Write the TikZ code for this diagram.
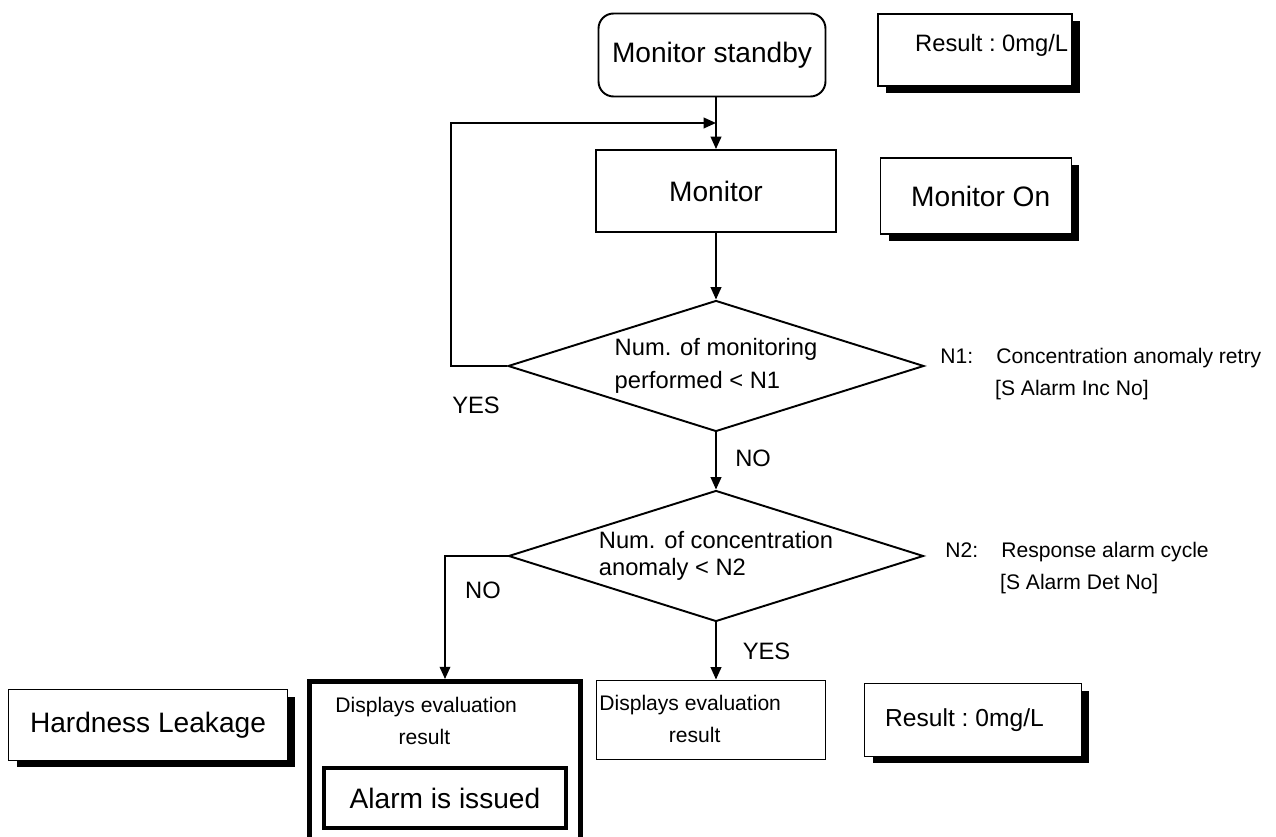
\documentclass[tikz,border=0pt]{standalone}
\usepackage{fontspec}
\setmainfont{Liberation Sans}
\usetikzlibrary{shapes.geometric,arrows.meta,shadows}

\tikzset{
  box/.style={draw,line width=1.1pt,fill=white,inner sep=0pt},
  shadowbox/.style={box,drop shadow={shadow xshift=0.16cm,shadow yshift=-0.14cm,fill=black,opacity=1}},
  heavybox/.style={draw,inner sep=0pt},
  decision/.style={diamond,draw,line width=1.1pt,inner sep=0pt,align=left,shape aspect=3.17},
  flow/.style={line width=1.1pt,-{Triangle[length=7pt,width=6pt]}},
  big/.style={font=\fontsize{16}{19}\selectfont},
  res/.style={font=\fontsize{14}{17}\selectfont},
  mid/.style={font=\fontsize{13.5}{19}\selectfont},
  small/.style={font=\fontsize{12}{18}\selectfont},
}

\begin{document}
\begin{tikzpicture}[x=0.02cm,y=-0.02cm]
\useasboundingbox (0,0) rectangle (1276,837);
% main column
\node[box,rounded corners=0.3cm,big,minimum width=4.54cm,minimum height=1.66cm] (standby) at (712,55) {Monitor standby};
\node[box,big,minimum width=4.8cm,minimum height=1.64cm] (monitor) at (716,191) {Monitor};
\node[decision,mid,minimum width=8.32cm,minimum height=2.62cm] (check1) at (716,366) {Num. of monitoring\\performed < N1};
\node[decision,font=\fontsize{13.5}{15.5}\selectfont,minimum width=8.3cm,minimum height=2.62cm] (check2) at (716,556) {Num. of concentration\\anomaly < N2};
\node[box,minimum width=4.58cm,minimum height=1.58cm] (display) at (711,720) {};
\node[heavybox,line width=2.8pt,minimum width=5.42cm,minimum height=3.38cm] (alarmbox) at (445,766) {};
\node[heavybox,line width=2.3pt,minimum width=4.86cm,minimum height=1.2cm,big] (alarm) at (445,798) {Alarm is issued};
% side notes
\node[shadowbox,minimum width=3.88cm,minimum height=1.44cm] (result1) at (975,50) {};
\node[shadowbox,minimum width=3.82cm,minimum height=1.52cm] (monon) at (976,196) {};
\node[shadowbox,minimum width=4.34cm,minimum height=1.46cm] (result2) at (973,720) {};
\node[shadowbox,big,minimum width=5.58cm,minimum height=1.42cm] (leak) at (148,725) {Hardness Leakage};
\node[font=\fontsize{13.5}{17}\selectfont,anchor=west] (result1txt) at (909,45) {Result\ :\ 0mg/L};
\node[big,anchor=west] (monontxt) at (905,196) {Monitor On};
\node[res,anchor=west] (result2txt) at (879,720) {Result\ :\ 0mg/L};
\node[small,anchor=north west,align=left,inner sep=0pt] (displaytxt) at (599,695) {Displays evaluation\\\hspace*{3.3em}result};
\node[small,anchor=north west,align=left,inner sep=0pt] (alarmtxt) at (335,697) {Displays evaluation\\\hspace*{3em}result};
\node[small,anchor=west,align=left,inner sep=0pt] (n1) at (940,374) {N1:\hspace{1.1em}Concentration anomaly retry\\\hspace*{2.6em}[S Alarm Inc No]};
\node[small,anchor=west,align=left,inner sep=0pt] (n2) at (945,568) {N2:\hspace{1.1em}Response alarm cycle\\\hspace*{2.6em}[S Alarm Det No]};
\coordinate (merge) at (716,123);
% connectors
\draw[flow] (standby.south -| monitor.north) -- (monitor.north);
\draw[flow] (monitor.south) -- (check1.north);
\draw[flow] (check1.south) -- (check2.north) node[mid,anchor=west,pos=0.45,xshift=0.25cm] (no1) {NO};
\draw[flow] (check1.west) -- ++(-56,0) |- (merge);
\draw[flow] (check2.west) -| (alarmbox.north);
\draw[flow] (check2.south) -- (display.north -| check2.south) node[mid,anchor=west,pos=0.5,xshift=0.4cm] (yes2) {YES};
\node[mid] (yes1) at (476,405) {YES};
\node[mid] (no2) at (483,590) {NO};
\end{tikzpicture}
\end{document}
